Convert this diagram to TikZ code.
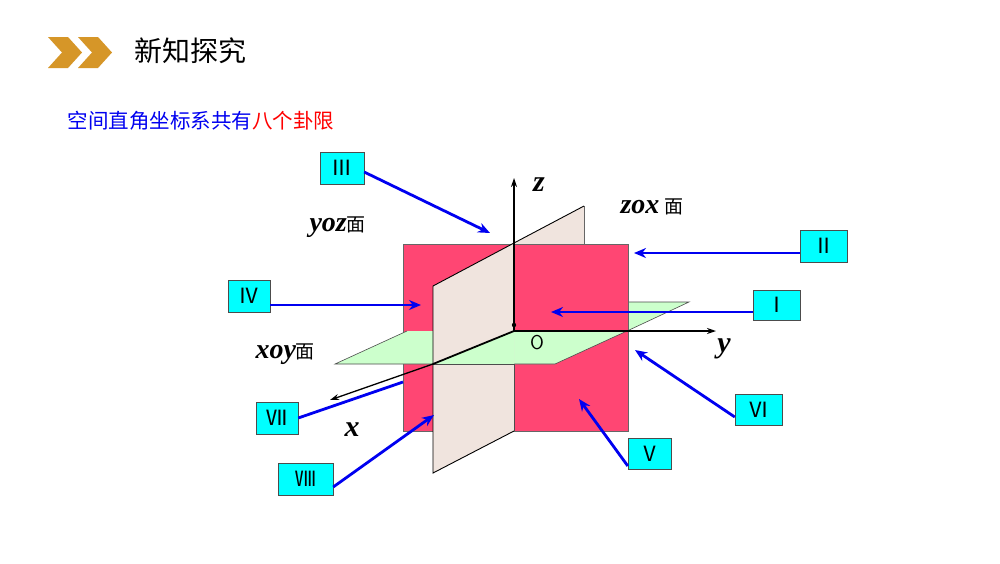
\documentclass[tikz,border=0pt]{standalone}
\usepackage{fontspec}
\setmainfont{Liberation Serif}
\newfontfamily\cjk{Noto Sans CJK SC}
\usetikzlibrary{arrows.meta}
\definecolor{pinkc}{RGB}{255,70,115}
\definecolor{beigec}{RGB}{240,228,222}
\definecolor{greenc}{RGB}{204,255,204}
\definecolor{cyanc}{RGB}{0,255,255}
\definecolor{orangec}{RGB}{214,150,40}
\definecolor{bluec}{RGB}{0,0,240}
\tikzset{
 lbox/.style={draw=black!70,fill=cyanc,minimum width=44pt,minimum height=32pt,inner sep=0pt,font=\cjk\fontsize{21}{21}\selectfont},
 barrow/.style={draw=bluec,line width=2.8pt,-{Stealth[length=12pt,width=10pt]}},
 axl/.style={font=\bfseries\itshape\fontsize{30}{30}\selectfont},
 edge/.style={draw=black,line width=0.9pt},
 axarrow/.style={line width=1.3pt,-{Stealth[length=9pt,width=6pt]}},
}
\begin{document}
\begin{tikzpicture}[x=1pt,y=-1pt]
\useasboundingbox (0,0) rectangle (1000,563);
\fill[white] (0,0) rectangle (1000,563);
% header
\fill[orangec] (48,37) -- (68,37) -- (82,52.5) -- (68,68) -- (48,68) -- (62,52.5) -- cycle;
\fill[orangec] (78,37) -- (98,37) -- (112,52.5) -- (98,68) -- (78,68) -- (92,52.5) -- cycle;
\node[anchor=west,font=\cjk\fontsize{28}{28}\selectfont] (title) at (131,51) {新知探究};
\node[anchor=west,font=\cjk\fontsize{20.5}{20.5}\selectfont] (sub) at (64,121) {\textcolor{bluec}{空间直角坐标系共有}\textcolor{red}{八个卦限}};
% planes
\path[fill=beigec] (433,286) -- (584,206) -- (584,393) -- (433,473) -- cycle;
\draw[black!60,line width=0.6pt] (584,206) -- (584,244);
\path[fill=greenc,draw=black!70,line width=0.6pt] (407,331) -- (469,302) -- (689,302) -- (627,331) -- cycle;
\path[fill=pinkc,draw=black!60,line width=0.6pt] (403,244) rectangle (628,431);
\path[fill=greenc] (407,331) -- (627,331) -- (555,364) -- (335,364) -- cycle;
\draw[black!70,line width=0.6pt] (407,331) -- (335,364) -- (555,364) -- (627,331);
\path[fill=beigec] (433,286) -- (514,243) -- (514,431) -- (433,473) -- cycle;
\path[fill=greenc] (514,331) -- (433,364) -- (514,364) -- cycle;
\draw[black!70,line width=0.6pt] (433,364) -- (514,364);
\draw[edge] (514,243) -- (584,206);
\draw[edge] (514,243) -- (433,286) -- (433,473) -- (514,431);
\draw[black!70,line width=0.6pt] (514,364) -- (514,431);
% axes
\coordinate (O) at (514,331);
\coordinate (zt) at (514,178);
\coordinate (yt) at (716,331);
\coordinate (xt) at (330,400);
\draw[axarrow] (O) -- (zt);
\draw[line width=2.4pt] (O) -- (514,244);
\draw[axarrow] (O) -- (yt);
\draw[line width=1.8pt] (O) -- (433,364);
\draw[axarrow] (433,364) -- (xt);
\fill (514,325) circle (2.2pt);
\node[axl] (zl) at (539,185) {z};
\node[axl] (yl) at (724,349) {y};
\node[axl] (xl) at (352,430) {x};
\node[font=\sffamily\fontsize{20}{20}\selectfont] (Ol) at (537,343) {O};
\node[anchor=west] (zox) at (617,207) {\bfseries\itshape\fontsize{28}{28}\selectfont zox\,\cjk\mdseries\upshape\fontsize{19}{19}\selectfont 面};
\node[anchor=west] (yoz) at (306,227) {\bfseries\itshape\fontsize{28}{28}\selectfont yoz\cjk\mdseries\upshape\fontsize{19}{19}\selectfont 面};
\node[anchor=west] (xoy) at (252,354) {\bfseries\itshape\fontsize{28}{28}\selectfont xoy\cjk\mdseries\upshape\fontsize{19}{19}\selectfont 面};
% label boxes
\node[lbox] (b3) at (342,168) {Ⅲ};
\node[lbox,minimum width=47pt] (b2) at (823.5,246) {Ⅱ};
\node[lbox,minimum width=47pt,minimum height=30pt] (b1) at (776.5,305) {Ⅰ};
\node[lbox,minimum width=42pt] (b4) at (249,296) {Ⅳ};
\node[lbox,minimum width=42pt] (b7) at (277,418) {Ⅶ};
\node[lbox,minimum width=47pt,minimum height=31pt] (b6) at (758.5,409.5) {Ⅵ};
\node[lbox,minimum width=43pt,minimum height=31pt] (b5) at (649.5,453.5) {Ⅴ};
\node[lbox,minimum width=55pt] (b8) at (305.5,479) {Ⅷ};
% arrows
\coordinate (t3) at (490,233);
\coordinate (t2) at (634,253);
\coordinate (t1) at (551,312);
\coordinate (t4) at (421,305);
\coordinate (t7) at (403,382);
\coordinate (t6) at (635,350);
\coordinate (t5) at (579,399);
\coordinate (t8) at (434,415);
\draw[barrow] (b3.east |- 0,172) -- (t3);
\draw[barrow] (b2.west |- 0,253) -- (t2);
\draw[barrow] (b1.west |- 0,312) -- (t1);
\draw[barrow] (b4.east |- 0,305) -- (t4);
\draw[draw=bluec,line width=2.8pt] (b7.east |- 0,418) -- (t7);
\draw[barrow] (b6.west |- 0,417) -- (t6);
\draw[barrow] (b5.west |- 0,466) -- (t5);
\draw[barrow] (b8.east |- 0,487) -- (t8);
\end{tikzpicture}
\end{document}
